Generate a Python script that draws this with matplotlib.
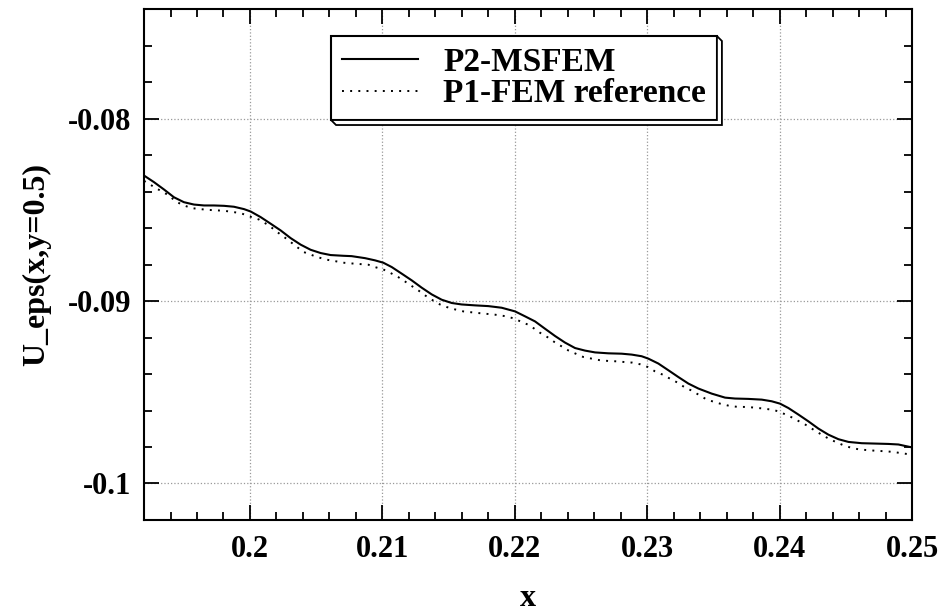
import matplotlib
matplotlib.use("Agg")
import matplotlib.pyplot as plt
from matplotlib.patches import Polygon
from matplotlib.ticker import MultipleLocator

plt.rcParams['font.family'] = ['Liberation Serif', 'DejaVu Serif']
plt.rcParams['font.weight'] = 'bold'

# P2-MSFEM (solid)
x_msfem = [0.19200, 0.19275, 0.19350, 0.19426, 0.19501, 0.19577, 0.19653, 0.19728, 0.19804, 0.19879,
           0.19955, 0.20005, 0.20081, 0.20156, 0.20232, 0.20307, 0.20383, 0.20458, 0.20534, 0.20609,
           0.20705, 0.20768, 0.20869, 0.20944, 0.21007, 0.21071, 0.21146, 0.21222, 0.21297, 0.21373,
           0.21448, 0.21524, 0.21599, 0.21700, 0.21800, 0.21901, 0.22002, 0.22077, 0.22153, 0.22228,
           0.22304, 0.22379, 0.22455, 0.22530, 0.22606, 0.22707, 0.22807, 0.22883, 0.22958, 0.23008,
           0.23084, 0.23160, 0.23235, 0.23311, 0.23386, 0.23487, 0.23588, 0.23663, 0.23764, 0.23865,
           0.23940, 0.24003, 0.24066, 0.24142, 0.24217, 0.24293, 0.24368, 0.24444, 0.24520, 0.24620,
           0.24721, 0.24821, 0.24897, 0.24960, 0.25000]
y_msfem = [-0.08311, -0.08347, -0.08387, -0.08430, -0.08457, -0.08470, -0.08475, -0.08475, -0.08477, -0.08482,
           -0.08495, -0.08508, -0.08539, -0.08575, -0.08612, -0.08654, -0.08690, -0.08718, -0.08736, -0.08747,
           -0.08751, -0.08753, -0.08764, -0.08776, -0.08789, -0.08813, -0.08849, -0.08886, -0.08926, -0.08963,
           -0.08992, -0.09010, -0.09018, -0.09023, -0.09027, -0.09036, -0.09056, -0.09083, -0.09111, -0.09151,
           -0.09191, -0.09227, -0.09257, -0.09271, -0.09281, -0.09286, -0.09288, -0.09293, -0.09302, -0.09315,
           -0.09342, -0.09379, -0.09416, -0.09452, -0.09479, -0.09507, -0.09529, -0.09534, -0.09536, -0.09540,
           -0.09549, -0.09562, -0.09586, -0.09622, -0.09659, -0.09699, -0.09732, -0.09757, -0.09772, -0.09779,
           -0.09781, -0.09783, -0.09786, -0.09796, -0.09802]

# P1-FEM reference (dotted)
x_ref = [0.19200, 0.19224, 0.19300, 0.19388, 0.19439, 0.19501, 0.19564, 0.19677, 0.19804, 0.19930,
         0.19992, 0.20068, 0.20144, 0.20206, 0.20282, 0.20357, 0.20408, 0.20508, 0.20584, 0.20655,
         0.20705, 0.20768, 0.20894, 0.20944, 0.21007, 0.21058, 0.21120, 0.21171, 0.21222, 0.21272,
         0.21322, 0.21373, 0.21435, 0.21485, 0.21548, 0.21611, 0.21724, 0.21850, 0.21926, 0.22001,
         0.22052, 0.22102, 0.22148, 0.22190, 0.22246, 0.22299, 0.22354, 0.22404, 0.22460, 0.22517,
         0.22580, 0.22644, 0.22707, 0.22770, 0.22832, 0.22888, 0.22946, 0.23004, 0.23059, 0.23117,
         0.23172, 0.23230, 0.23280, 0.23331, 0.23386, 0.23450, 0.23550, 0.23625, 0.23688, 0.23751,
         0.23814, 0.23877, 0.23940, 0.23990, 0.24046, 0.24103, 0.24154, 0.24212, 0.24262, 0.24317,
         0.24368, 0.24423, 0.24481, 0.24544, 0.24607, 0.24670, 0.24733, 0.24796, 0.24859, 0.24922,
         0.25000]
y_ref = [-0.08340, -0.08351, -0.08384, -0.08420, -0.08453, -0.08475, -0.08490, -0.08499, -0.08504, -0.08517,
         -0.08534, -0.08552, -0.08585, -0.08621, -0.08661, -0.08704, -0.08731, -0.08758, -0.08773, -0.08782,
         -0.08789, -0.08793, -0.08800, -0.08813, -0.08826, -0.08844, -0.08868, -0.08892, -0.08917, -0.08941,
         -0.08968, -0.08992, -0.09018, -0.09032, -0.09045, -0.09056, -0.09065, -0.09074, -0.09082, -0.09096,
         -0.09115, -0.09129, -0.09151, -0.09173, -0.09197, -0.09224, -0.09248, -0.09270, -0.09288, -0.09306,
         -0.09315, -0.09324, -0.09328, -0.09330, -0.09334, -0.09337, -0.09346, -0.09361, -0.09385, -0.09403,
         -0.09425, -0.09447, -0.09471, -0.09489, -0.09512, -0.09540, -0.09562, -0.09575, -0.09580, -0.09580,
         -0.09584, -0.09589, -0.09595, -0.09604, -0.09622, -0.09641, -0.09662, -0.09684, -0.09708, -0.09732,
         -0.09753, -0.09772, -0.09790, -0.09805, -0.09814, -0.09817, -0.09821, -0.09823, -0.09827, -0.09834,
         -0.09842]

x_ticks = [0.20, 0.21, 0.22, 0.23, 0.24, 0.25]
x_ticklabels = ['0.2', '0.21', '0.22', '0.23', '0.24', '0.25']
y_ticks = [-0.10, -0.09, -0.08]
y_ticklabels = ['-0.1', '-0.09', '-0.08']

fig = plt.figure(figsize=(9.42, 6.11), dpi=100)
ax = fig.add_axes([0.1529, 0.149, 0.8153, 0.8355])

ax.plot(x_msfem, y_msfem, color='black', lw=1.5, label='P2-MSFEM')
ax.plot(x_ref, y_ref, color='black', lw=1.4, linestyle=(0, (1, 3.2)), label='P1-FEM reference')

ax.set_xlim(0.192, 0.25)
ax.set_ylim(-0.102, -0.074)
ax.set_xticks(x_ticks)
ax.set_xticklabels(x_ticklabels)
ax.set_yticks(y_ticks)
ax.set_yticklabels(y_ticklabels)
ax.xaxis.set_minor_locator(MultipleLocator(0.002))
ax.yaxis.set_minor_locator(MultipleLocator(0.002))
ax.tick_params(which='both', direction='in', top=True, right=True, width=1.3)
ax.tick_params(which='major', length=11, labelsize=22)
ax.tick_params(which='minor', length=5.5)
ax.tick_params(axis='x', which='major', pad=11)
ax.tick_params(axis='y', which='major', pad=9)
ax.grid(True, which='major', color='#999999', linestyle=':', lw=0.9)
for sp in ax.spines.values():
    sp.set_linewidth(1.5)

ax.set_xlabel('x', fontsize=23, fontweight='bold', labelpad=14)
ax.set_ylabel('U_eps(x,y=0.5)', fontsize=23, fontweight='bold', labelpad=12)

leg = ax.legend(loc='upper left', bbox_to_anchor=(0.2435, 0.948), borderaxespad=0,
                fontsize=24, fancybox=False, framealpha=1, edgecolor='black',
                handlelength=2.3, handletextpad=0.75, borderpad=0.32, labelspacing=0.02)
leg.get_frame().set_linewidth(1.5)
leg.set_zorder(5)

# 3D bevel under the legend box
fig.canvas.draw()
bb = leg.get_window_extent()
d = 5
bevel = Polygon([(bb.x0, bb.y0), (bb.x0 + d, bb.y0 - d), (bb.x1 + d, bb.y0 - d),
                 (bb.x1 + d, bb.y1 - d), (bb.x1, bb.y1), (bb.x1, bb.y0)],
                closed=True, transform=None, facecolor='white', edgecolor='black',
                lw=1.3, zorder=4.5)
fig.add_artist(bevel)

fig.savefig('out.png', dpi=100)
